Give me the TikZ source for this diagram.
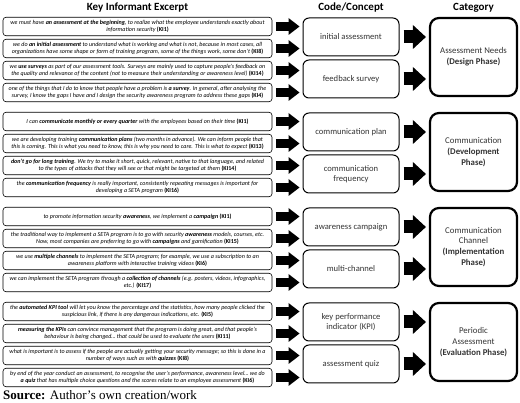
\documentclass[tikz,border=0pt]{standalone}
\usepackage{fontspec}
\setmainfont{Carlito}
\newfontfamily\srcfont{Liberation Serif}
\usetikzlibrary{arrows.meta}
\newcommand\kiref[1]{\textbf{\upshape(#1)}}
\definecolor{txtgrey}{gray}{0.2}
\begin{document}
\begin{tikzpicture}[x=1pt,y=-1pt,
 excerpt/.style={draw, line width=0.6pt, rounded corners=3pt, minimum width=269pt, minimum height=18.5pt, inner sep=0pt, align=center, font=\fontsize{6.05}{7.1}\selectfont\itshape},
 concept/.style={draw, line width=1pt, rounded corners=6pt, minimum width=96pt, minimum height=38pt, inner sep=1pt, align=center, text=txtgrey, font=\fontsize{8.6}{10.5}\selectfont},
 category/.style={draw, line width=2.2pt, rounded corners=9pt, minimum width=87pt, minimum height=78pt, inner sep=1pt, align=center, text=txtgrey, font=\fontsize{8.8}{10.8}\selectfont},
 header/.style={font=\fontsize{11}{13}\selectfont\bfseries},
 smallarrow/.style={line width=9pt, -{Triangle[length=11pt,width=17pt,line width=0pt]}, shorten <=3.5pt, shorten >=3pt},
 bigarrow/.style={line width=13pt, -{Triangle[length=13pt,width=24pt,line width=0pt]}, shorten <=4pt, shorten >=3pt},
]
\useasboundingbox (0,0) rectangle (520,403);

% headers
\node[header] (h1) at (137.5,8) {Key Informant Excerpt};
\node[header] (h2) at (351,8) {Code/Concept};
\node[header] (h3) at (473.5,8) {Category};

% ---------- group 1 ----------
\node[excerpt] (e1a) at (137.5,26.5) {we must have \textbf{an assessment at the beginning}, to realize what the employee understands exactly about\\information security \kiref{KI1}};
\node[excerpt] (e1b) at (137.5,48.5) {we do \textbf{an initial assessment} to understand what is working and what is not, because in most cases, all\\organizations have some shape or form of training program, some of the things work, some don’t \kiref{KI8}};
\node[excerpt] (e1c) at (137.5,70.5) {we \textbf{use surveys} as part of our assessment tools. Surveys are mainly used to capture people’s feedback on\\the quality and relevance of the content (not to measure their understanding or awareness level) \kiref{KI14}};
\node[excerpt] (e1d) at (137.5,92.5) {one of the things that I do to know that people have a problem is \textbf{a survey}. In general, after analysing the\\survey, I know the gaps I have and I design the security awareness program to address these gaps \kiref{KI4}};
\node[concept] (c1a) at (351,37) {initial assessment};
\node[concept] (c1b) at (351,79) {feedback survey};
\node[category] (k1) at (473.5,57) {Assessment Needs\\\textbf{(Design Phase)}};

% ---------- group 2 ----------
\node[excerpt] (e2a) at (137.5,121.5) {I can \textbf{communicate monthly or every quarter} with the employees based on their time \kiref{KI1}};
\node[excerpt] (e2b) at (137.5,143.5) {we are developing training \textbf{communication plans} (two months in advance). We can inform people that\\this is coming. This is what you need to know, this is why you need to care. This is what to expect \kiref{KI13}};
\node[excerpt] (e2c) at (137.5,165.5) {\textbf{don’t go for long training}. We try to make it short, quick, relevant, native to that language, and related\\to the types of attacks that they will see or that might be targeted at them \kiref{KI14}};
\node[excerpt] (e2d) at (137.5,187.5) {the \textbf{communication frequency} is really important, consistently repeating messages is important for\\developing a SETA program \kiref{KI16}};
\node[concept] (c2a) at (351,132) {communication plan};
\node[concept] (c2b) at (351,174) {communication\\frequency};
\node[category] (k2) at (473.5,152) {Communication\\\textbf{(Development}\\\textbf{Phase)}};

% ---------- group 3 ----------
\node[excerpt] (e3a) at (137.5,216.5) {to promote information security \textbf{awareness}, we implement a \textbf{campaign} \kiref{KI1}};
\node[excerpt] (e3b) at (137.5,238.5) {the traditional way to implement a SETA program is to go with security \textbf{awareness} models, courses, etc.\\Now, most companies are preferring to go with \textbf{campaigns} and gamification \kiref{KI15}};
\node[excerpt] (e3c) at (137.5,260.5) {we use \textbf{multiple channels} to implement the SETA program; for example, we use a subscription to an\\awareness platform with interactive training videos \kiref{KI6}};
\node[excerpt] (e3d) at (137.5,282.5) {we can implement the SETA program through a \textbf{collection of channels} (e.g. posters, videos, infographics,\\etc.) \kiref{KI17}};
\node[concept] (c3a) at (351,227) {awareness campaign};
\node[concept] (c3b) at (351,269) {multi-channel};
\node[category] (k3) at (473.5,247) {Communication\\Channel\\\textbf{(Implementation}\\\textbf{Phase)}};

% ---------- group 4 ----------
\node[excerpt] (e4a) at (137.5,311.5) {the \textbf{automated KPI tool} will let you know the percentage and the statistics, how many people clicked the\\suspicious link, if there is any dangerous indications, etc. \kiref{KI5}};
\node[excerpt] (e4b) at (137.5,333.5) {\textbf{measuring the KPIs} can convince management that the program is doing great, and that people’s\\behaviour is being changed… that could be used to evaluate the users \kiref{KI11}};
\node[excerpt] (e4c) at (137.5,355.5) {what is important is to assess if the people are actually getting your security message; so this is done in a\\number of ways such as with \textbf{quizzes} \kiref{KI8}};
\node[excerpt] (e4d) at (137.5,377.5) {by end of the year conduct an assessment, to recognise the user’s performance, awareness level… we do\\\textbf{a quiz} that has multiple choice questions and the scores relate to an employee assessment \kiref{KI6}};
\node[concept] (c4a) at (351,322) {key performance\\indicator (KPI)};
\node[concept] (c4b) at (351,364) {assessment quiz};
\node[category] (k4) at (473.5,342) {Periodic\\Assessment\\\textbf{(Evaluation Phase)}};

% arrows
\foreach \g in {1,2,3,4}{
  \draw[smallarrow] (e\g a.east) -- (e\g a.east -| c\g a.west);
  \draw[smallarrow] (e\g b.east) -- (e\g b.east -| c\g a.west);
  \draw[smallarrow] (e\g c.east) -- (e\g c.east -| c\g b.west);
  \draw[smallarrow] (e\g d.east) -- (e\g d.east -| c\g b.west);
  \draw[bigarrow] (c\g a.east) -- (c\g a.east -| k\g.west);
  \draw[bigarrow] (c\g b.east) -- (c\g b.east -| k\g.west);
}

% source
\node[anchor=base west, inner sep=0pt, font=\srcfont\fontsize{13}{15}\selectfont] (src) at (3,400) {\textbf{Source:} Author’s own creation/work};
\end{tikzpicture}
\end{document}
